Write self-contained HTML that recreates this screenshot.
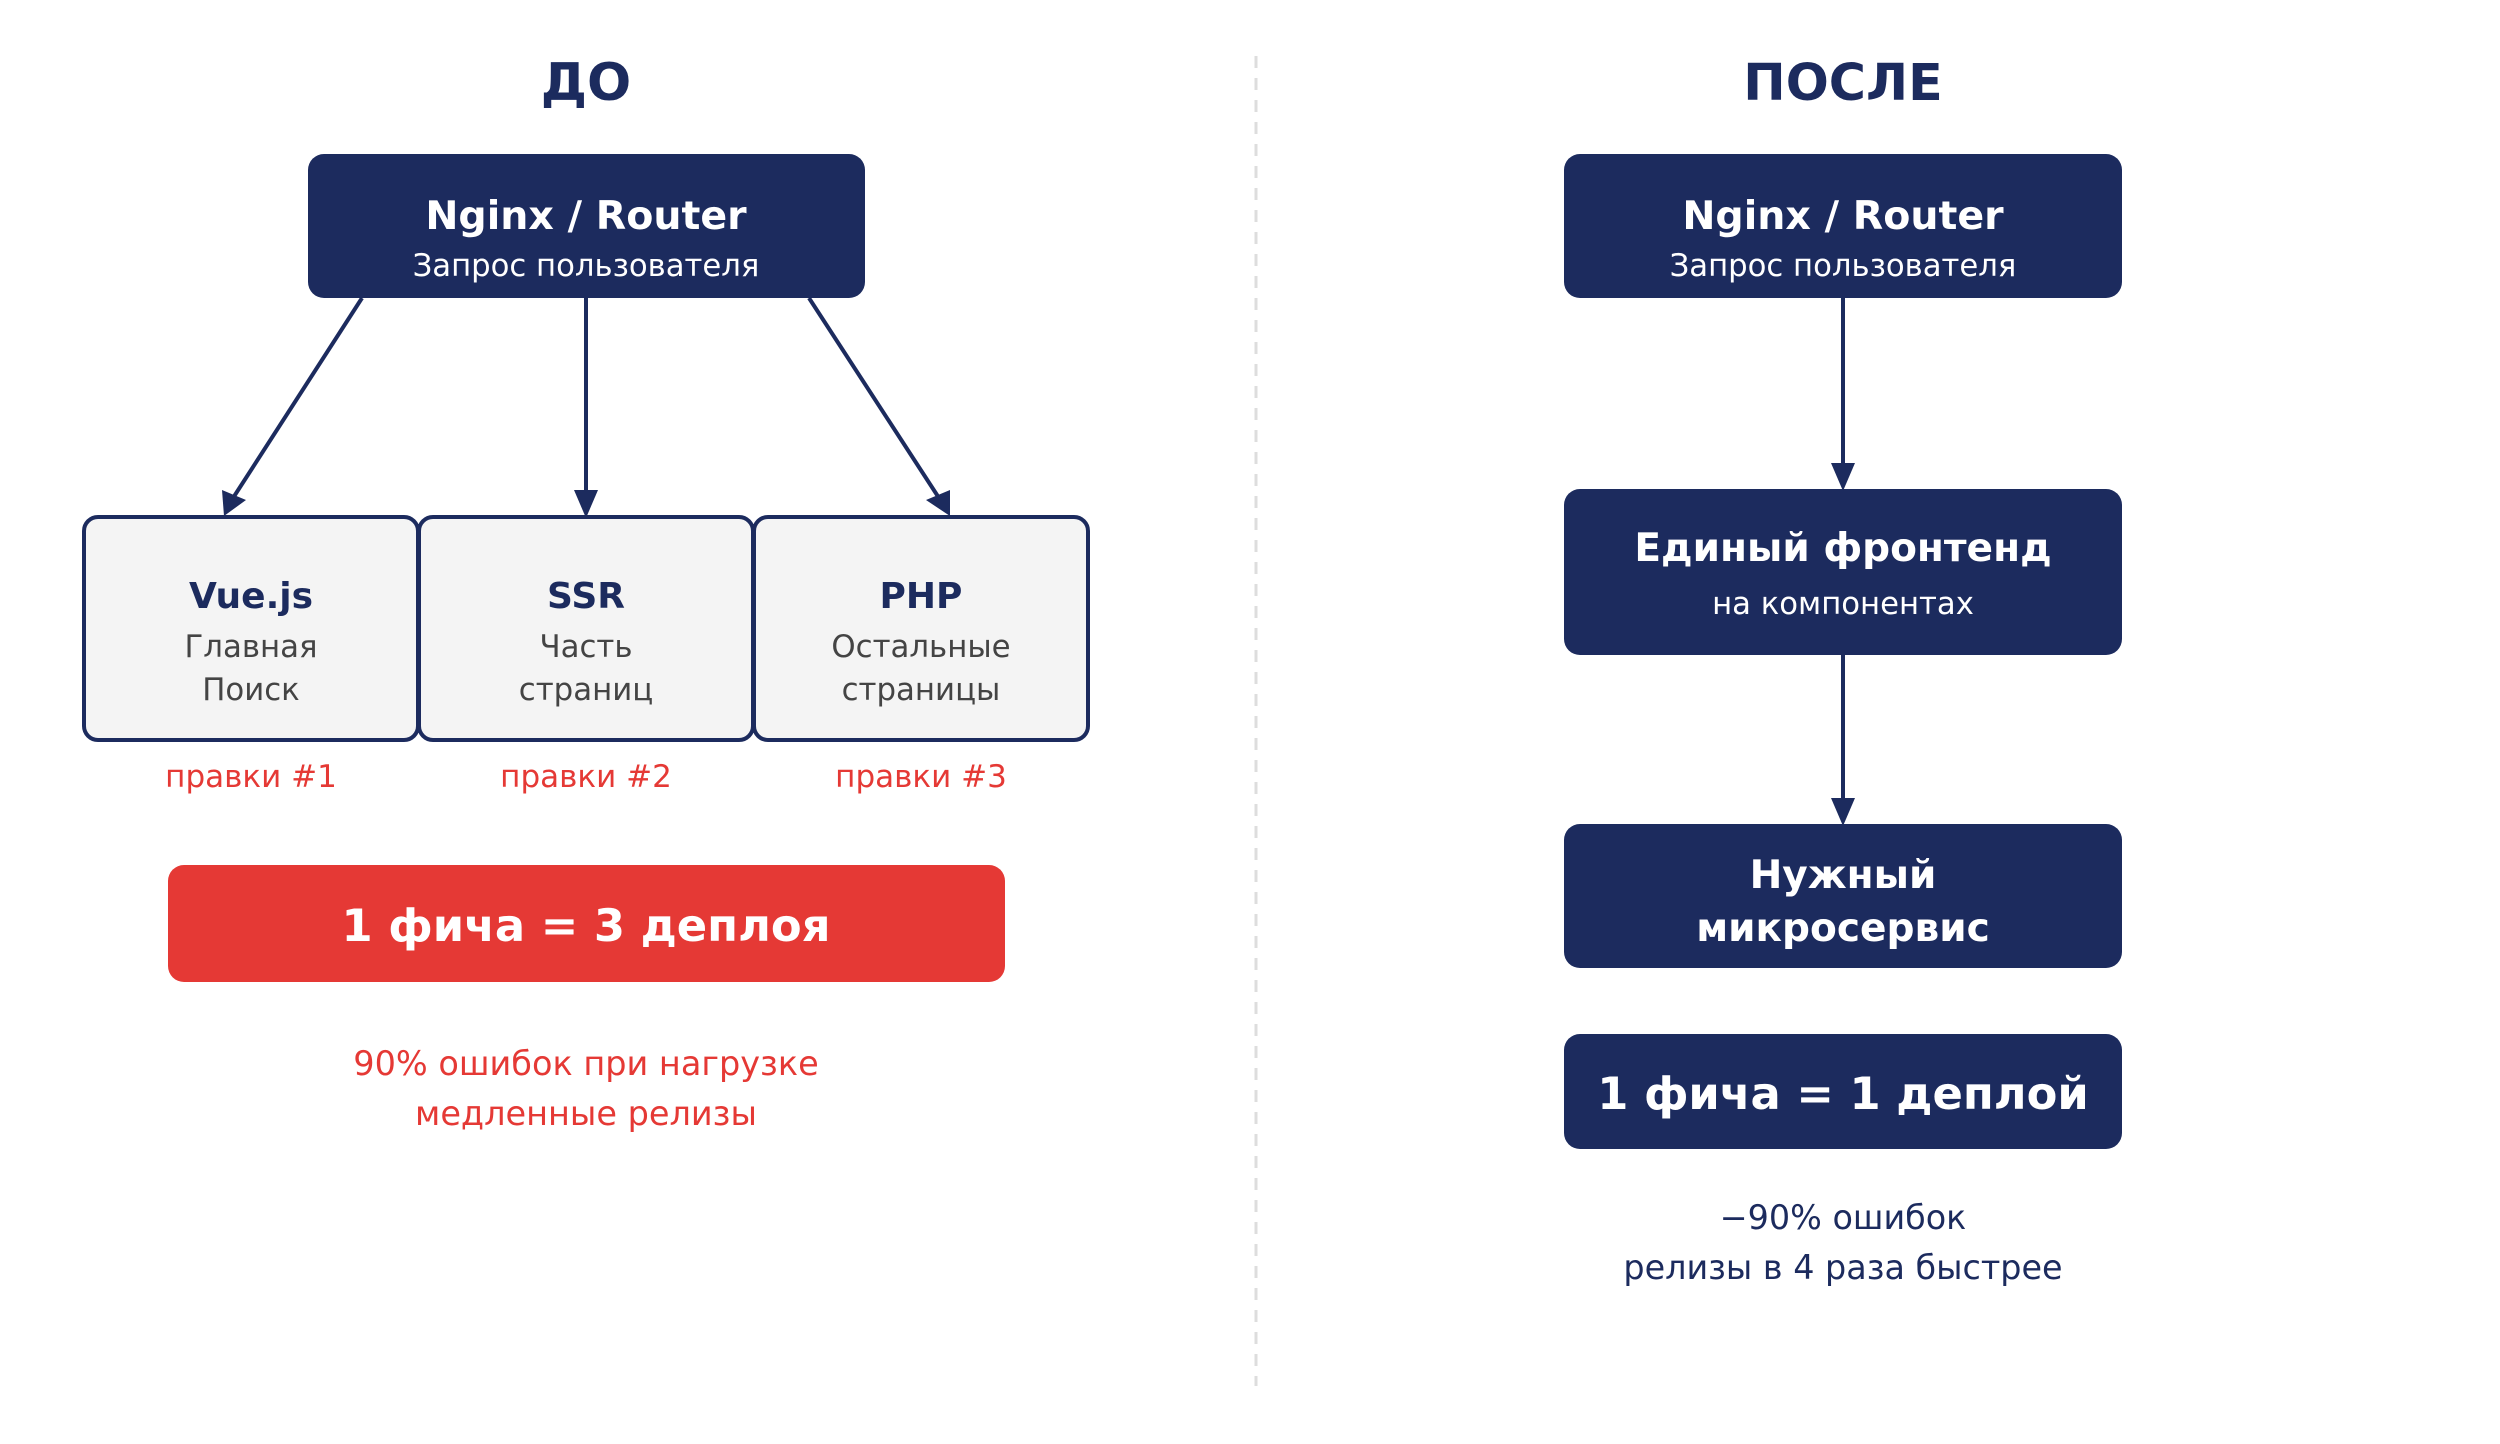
<!DOCTYPE html>
<html><head><meta charset="utf-8"><style>
html,body{margin:0;padding:0;background:#fff;}
svg{display:block;font-family:"DejaVu Sans","Liberation Sans",sans-serif;}
</style></head><body>
<svg width="2500" height="1444" viewBox="0 0 2500 1444" xmlns="http://www.w3.org/2000/svg">
<rect width="2500" height="1444" fill="#fff"/>
<line x1="1256" y1="56" x2="1256" y2="1386" stroke="#dddddd" stroke-width="3" stroke-dasharray="12,10"/>

<!-- LEFT -->
<text x="586" y="100" text-anchor="middle" font-size="52" font-weight="bold" fill="#1c2b5e">ДО</text>
<rect x="308" y="154" width="557" height="144" rx="16" fill="#1c2b5e"/>
<text x="586" y="229" text-anchor="middle" font-size="39.5" font-weight="bold" fill="#fff">Nginx / Router</text>
<text x="586" y="276" text-anchor="middle" font-size="30.7" fill="#fff">Запрос пользователя</text>

<g stroke="#1c2b5e" stroke-width="4">
<line x1="362" y1="298" x2="233" y2="498"/>
<line x1="586" y1="298" x2="586" y2="494"/>
<line x1="809" y1="298" x2="939" y2="498"/>
<line x1="1843" y1="298" x2="1843" y2="465"/>
<line x1="1843" y1="655" x2="1843" y2="800"/>
</g>
<g fill="#1c2b5e">
<polygon points="224,516 222,490 246,500"/>
<polygon points="586,518 574,490 598,490"/>
<polygon points="950,516 926,500 950,490"/>
<polygon points="1843,491 1831,463 1855,463"/>
<polygon points="1843,826 1831,798 1855,798"/>
</g>

<g fill="#f4f4f4" stroke="#1c2b5e" stroke-width="4">
<rect x="84" y="517" width="334" height="223" rx="14"/>
<rect x="419" y="517" width="334" height="223" rx="14"/>
<rect x="754" y="517" width="334" height="223" rx="14"/>
</g>
<g text-anchor="middle">
<text x="251" y="608" font-size="36" font-weight="bold" fill="#1c2b5e">Vue.js</text>
<text x="586" y="608" font-size="36" font-weight="bold" fill="#1c2b5e">SSR</text>
<text x="921" y="608" font-size="36" font-weight="bold" fill="#1c2b5e">PHP</text>
<g font-size="30.8" fill="#444">
<text x="251" y="657">Главная</text><text x="251" y="700">Поиск</text>
<text x="586" y="657">Часть</text><text x="586" y="700">страниц</text>
<text x="921" y="657">Остальные</text><text x="921" y="700">страницы</text>
</g>
<g font-size="31" fill="#e53935">
<text x="251" y="787">правки #1</text>
<text x="586" y="787">правки #2</text>
<text x="921" y="787">правки #3</text>
</g>
</g>
<rect x="168" y="865" width="837" height="117" rx="16" fill="#e53935"/>
<text x="586" y="941" text-anchor="middle" font-size="44.8" font-weight="bold" fill="#fff">1 фича = 3 деплоя</text>
<g text-anchor="middle" font-size="33.5" fill="#e53935">
<text x="586" y="1075">90% ошибок при нагрузке</text>
<text x="586" y="1125">медленные релизы</text>
</g>

<!-- RIGHT -->
<text x="1843" y="100" text-anchor="middle" font-size="50.7" font-weight="bold" fill="#1c2b5e">ПОСЛЕ</text>
<rect x="1564" y="154" width="558" height="144" rx="16" fill="#1c2b5e"/>
<text x="1843" y="229" text-anchor="middle" font-size="39.5" font-weight="bold" fill="#fff">Nginx / Router</text>
<text x="1843" y="276" text-anchor="middle" font-size="30.7" fill="#fff">Запрос пользователя</text>

<rect x="1564" y="489" width="558" height="166" rx="16" fill="#1c2b5e"/>
<text x="1843" y="561" text-anchor="middle" font-size="39.1" font-weight="bold" fill="#fff">Единый фронтенд</text>
<text x="1843" y="614" text-anchor="middle" font-size="30.7" fill="#fff">на компонентах</text>

<rect x="1564" y="824" width="558" height="144" rx="16" fill="#1c2b5e"/>
<text x="1843" y="888" text-anchor="middle" font-size="39.1" font-weight="bold" fill="#fff">Нужный</text>
<text x="1843" y="941" text-anchor="middle" font-size="39.1" font-weight="bold" fill="#fff">микросервис</text>

<rect x="1564" y="1034" width="558" height="115" rx="16" fill="#1c2b5e"/>
<text x="1843" y="1109" text-anchor="middle" font-size="44.8" font-weight="bold" fill="#fff">1 фича = 1 деплой</text>

<g text-anchor="middle" font-size="33.4" fill="#1c2b5e">
<text x="1843" y="1229">−90% ошибок</text>
<text x="1843" y="1279">релизы в 4 раза быстрее</text>
</g>
</svg>
</body></html>
